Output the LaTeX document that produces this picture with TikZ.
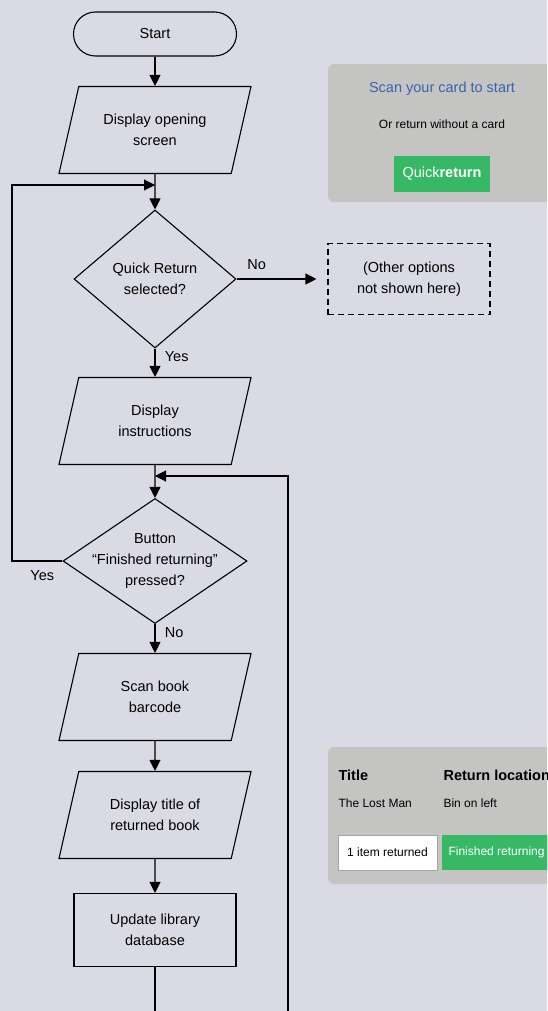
\documentclass[tikz,border=0pt]{standalone}
\usepackage{fontspec}
\setmainfont{Liberation Sans}
\usetikzlibrary{shapes.geometric,arrows.meta}

\definecolor{bgcol}{RGB}{218,218,228}
\definecolor{panelcol}{RGB}{196,197,195}
\definecolor{btngreen}{RGB}{55,184,100}
\definecolor{linkblue}{RGB}{58,98,176}

\tikzset{
  txt/.style={font=\fontsize{14.5}{21}\selectfont, align=center},
  small/.style={font=\fontsize{12}{15}\selectfont},
  terminal/.style={txt, draw, rounded corners=22pt, minimum width=163pt, minimum height=44pt},
  io/.style={txt, draw, trapezium, trapezium left angle=58, trapezium right angle=122,
    trapezium stretches body, minimum width=192pt, minimum height=87pt, inner sep=0pt},
  decision/.style={txt, draw, diamond, inner sep=-20pt},
  process/.style={txt, draw, minimum width=162pt, minimum height=73pt},
  ghost/.style={txt, draw, dashed, dash pattern=on 6pt off 4pt, minimum width=162pt, minimum height=71pt},
}

\begin{document}
\begin{tikzpicture}[x=1pt,y=-1pt, line width=1.1pt, >={Triangle[length=11pt,width=11pt]}]

      \useasboundingbox (0,0) rectangle (547,1011);
      \fill[bgcol] (0,0) rectangle (547,1011);
      \clip (0,0) rectangle (547,1011);

      \begin{scope}
        \node[terminal] (start)  at (155,34)  {Start};
        \node[io]       (open)   at (155,130) {Display opening\\screen};
        \node[decision, minimum width=162pt, minimum height=138pt] (quick) at (155,279) {Quick Return\\selected?};
        \node[ghost]    (other)  at (409,279) {(Other options\\not shown here)};
        \node[io]       (instr)  at (155,421) {Display\\instructions};
        \node[decision, minimum width=184pt, minimum height=125pt] (done) at (155,561) {Button\\``Finished returning''\\pressed?};
        \node[io]       (scan)   at (155,697) {Scan book\\barcode};
        \node[io]       (title)  at (155,815) {Display title of\\returned book};
        \node[process]  (update) at (155,930) {Update library\\database};
      \end{scope}

      \coordinate (in1)  at (155,185);
      \coordinate (in2)  at (155,476);
      \coordinate (back) at (12,561);
      \coordinate (low1) at (155,1020);
      \coordinate (low2) at (288,1020);

      \begin{scope}[every node/.style={txt}]
        \path (start) edge[->] (open);
        \draw[->] (open) -- (quick);
        \path (quick) edge[->, shorten >=11pt] node[above=5pt, pos=.22] {No} (other);
        \path (quick) edge[->] node[right=6pt, pos=.3] {Yes} (instr);
        \draw[->] (instr) -- (done);
        \draw[->] (done.west) -- (back) node[below=6pt, pos=.4] {Yes} |- (in1);
        \path (done) edge[->] node[right=6pt, pos=.3] {No} (scan);
        \path (scan) edge[->] (title);
        \path (title) edge[->] (update);
        \draw (update) -- (low1);
        \draw[->] (low2) |- (in2);
      \end{scope}

      \fill[panelcol, rounded corners=6pt] (328,64) rectangle (560,202);
      \node[txt, text=linkblue] (cardmsg) at (442,89) {Scan your card to start};
      \node[small] (nocard) at (442,124) {Or return without a card};
      \node[txt, fill=btngreen, text=white, minimum width=96pt, minimum height=36pt] (quickbtn) at (442,174) {Quick\textbf{return}};

      \fill[panelcol, rounded corners=6pt] (328,747) rectangle (600,884);
      \node[txt, anchor=west, inner sep=0pt] (colA) at (338,775) {\textbf{Title}};
      \node[txt, anchor=west, inner sep=0pt] (colB) at (443,775) {\textbf{Return location}};
      \node[small, anchor=west, inner sep=0pt] (book) at (338,803) {The Lost Man};
      \node[small, anchor=west, inner sep=0pt] (bin) at (443,803) {Bin on left};
      \node[small, draw=gray!70, line width=.6pt, fill=white, minimum width=99pt, minimum height=35pt] (count) at (387.5,852.5) {1 item returned};
      \fill[btngreen] (442,835) rectangle (600,870);
      \node[small, text=white, anchor=west, inner sep=0pt] (finish) at (448,852.5) {Finished returning};

    \end{tikzpicture}
\end{document}
